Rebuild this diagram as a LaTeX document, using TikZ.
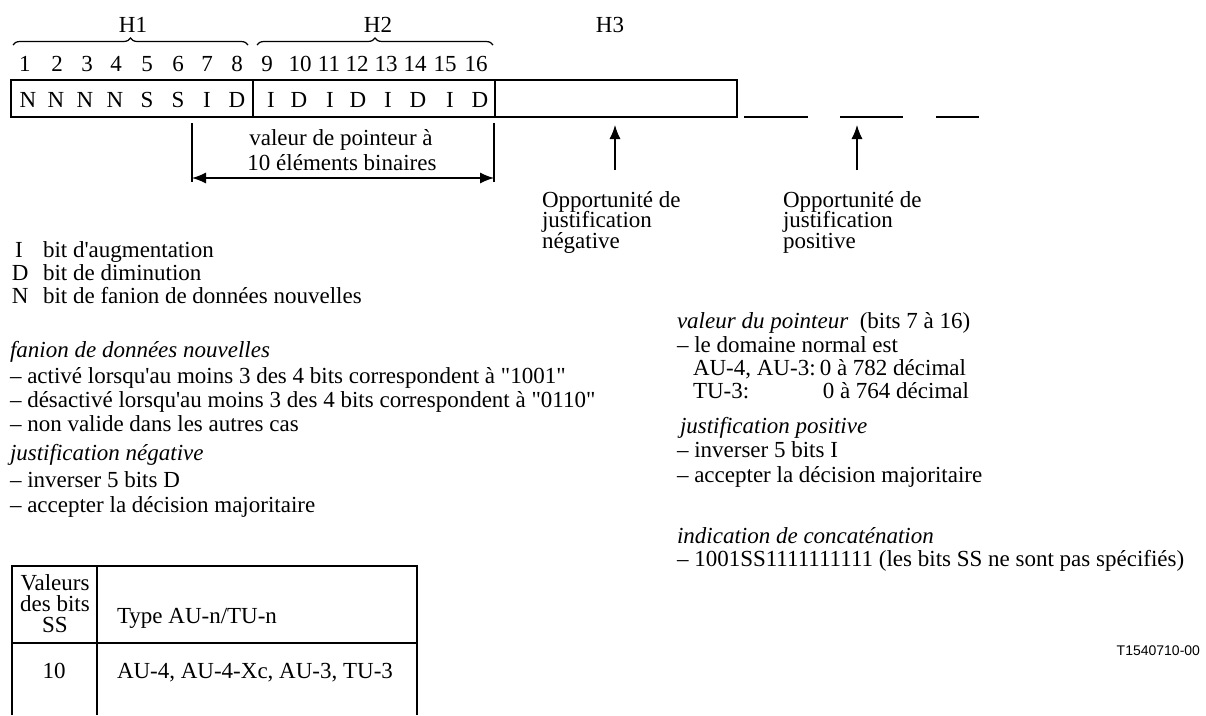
\documentclass[tikz,border=0pt]{standalone}
\usepackage{fontspec}
\setmainfont{Liberation Serif}[Ligatures=TeXOff]
\newfontfamily\sansf{Liberation Sans}
\usetikzlibrary{arrows.meta,decorations.pathreplacing}
\begin{document}
\begin{tikzpicture}[x=1pt,y=-1pt,
  every node/.style={inner sep=0pt,outer sep=0pt,font=\fontsize{23}{25}\selectfont},
  txt/.style={anchor=base west},
  ctr/.style={anchor=base},
  rgt/.style={anchor=base east},
  ln/.style={line width=1.2pt},
  thick box/.style={line width=1.3pt},
  divider/.style={line width=2pt},
  tbl/.style={line width=1.6pt},
  brc/.style={line width=1.2pt,decorate,decoration={brace,amplitude=7pt}},
  arr/.style={line width=1.2pt,-{Latex[length=14pt,width=11pt]}},
  darr/.style={line width=1.2pt,{Latex[length=14pt,width=11pt]}-{Latex[length=14pt,width=11pt]}},
]
\useasboundingbox (0,0) rectangle (1206,715);

% headers
\node[ctr] (h1) at (133,32) {H1};
\node[ctr] (h2) at (378,32) {H2};
\node[ctr] (h3) at (610,32) {H3};
\draw[brc] (13,45) -- (248,45);
\draw[brc] (257,45) -- (493,45);

% bit numbers
\foreach \n/\x in {1/25,2/57,3/87,4/116,5/147,6/178,7/207,8/237,9/267,10/300,11/329,12/357,13/386,14/415,15/445,16/476}
  \node[ctr] (n\n) at (\x,71) {\n};
% bit letters
\foreach \l/\x [count=\i] in {N/28,N/56,N/85,N/115,S/147,S/178,I/207,D/237,I/271,D/299,I/330,D/358,I/388,D/418,I/450,D/480}
  \node[ctr] (b\i) at (\x,107) {\l};

% frame
\draw[thick box] (11,80) rectangle (737,117);
\draw[divider] (253,80) -- (253,117);
\draw[divider] (495,80) -- (495,117);
\draw[thick box] (744,117) -- (808,117);
\draw[thick box] (840,117) -- (903,117);
\draw[thick box] (936,117) -- (979,117);

% pointer dimension
\coordinate (d1t) at (192,123);
\coordinate (d1b) at (192,182);
\coordinate (d2t) at (494,123);
\coordinate (d2b) at (494,182);
\draw[ln] (d1t) -- (d1b);
\draw[ln] (d2t) -- (d2b);
\coordinate (da) at (192,178);
\coordinate (db) at (494,178);
\draw[darr] (da) -- (db);
\node[ctr] (pv1) at (341,145) {valeur de pointeur à};
\node[ctr] (pv2) at (342,170) {10 éléments binaires};

% opportunity arrows
\coordinate (a1s) at (615,170);
\coordinate (a1e) at (615,125);
\coordinate (a2s) at (857,170);
\coordinate (a2e) at (857,125);
\draw[arr] (a1s) -- (a1e);
\draw[arr] (a2s) -- (a2e);
\node[txt] (on1) at (542,207) {Opportunité de};
\node[txt] (on2) at (542,227.5) {justification};
\node[txt] (on3) at (542,248) {négative};
\node[txt] (op1) at (783,207) {Opportunité de};
\node[txt] (op2) at (783,227.5) {justification};
\node[txt] (op3) at (783,248) {positive};

% legend
\node[txt] (lI) at (15,257) {I};
\node[txt] (tI) at (43,257) {bit d'augmentation};
\node[txt] (lD) at (12,280) {D};
\node[txt] (tD) at (43,280) {bit de diminution};
\node[txt] (lN) at (12,303) {N};
\node[txt] (tN) at (43,303) {bit de fanion de données nouvelles};

\node[txt] (fan) at (10,357) {\itshape fanion de données nouvelles};
\node[txt] (fan1) at (10,383) {– activé lorsqu'au moins 3 des 4 bits correspondent à "1001"};
\node[txt] (fan2) at (10,407) {– désactivé lorsqu'au moins 3 des 4 bits correspondent à "0110"};
\node[txt] (fan3) at (10,431) {– non valide dans les autres cas};
\node[txt] (jn) at (10,460) {\itshape justification négative};
\node[txt] (jn1) at (10,487) {– inverser 5 bits D};
\node[txt] (jn2) at (10,512) {– accepter la décision majoritaire};

% right column
\node[txt] (vp) at (677,328) {\textit{valeur du pointeur}\ \ (bits 7 à 16)};
\node[txt] (vp1) at (677,352) {– le domaine normal est};
\node[txt] (vp2a) at (693,375) {AU-4, AU-3:};
\node[rgt] (vp2b) at (966,375) {0 à 782 décimal};
\node[txt] (vp3a) at (693,398) {TU-3:};
\node[rgt] (vp3b) at (969,398) {0 à 764 décimal};
\node[txt] (jp) at (680,433) {\itshape justification positive};
\node[txt] (jp1) at (677,457) {– inverser 5 bits I};
\node[txt] (jp2) at (677,482) {– accepter la décision majoritaire};
\node[txt] (ic) at (677,543) {\itshape indication de concaténation};
\node[txt] (ic1) at (677,566) {– 1001SS1111111111 (les bits SS ne sont pas spécifiés)};

\node[rgt,font=\sansf\fontsize{14}{16}\selectfont] (ref) at (1200,655) {T1540710-00};

% table
\draw[tbl] (12,715) -- (12,566) -- (417,566) -- (417,715);
\draw[tbl] (97,566) -- (97,715);
\draw[tbl] (12,643) -- (417,643);
\node[ctr] (tv1) at (55,590) {Valeurs};
\node[ctr] (tv2) at (55,611) {des bits};
\node[ctr] (tv3) at (55,632) {SS};
\node[txt] (tt) at (117,623) {Type AU-n/TU-n};
\node[ctr] (t10) at (54,678) {10};
\node[txt] (tau) at (117,678) {AU-4, AU-4-Xc, AU-3, TU-3};
\end{tikzpicture}
\end{document}
